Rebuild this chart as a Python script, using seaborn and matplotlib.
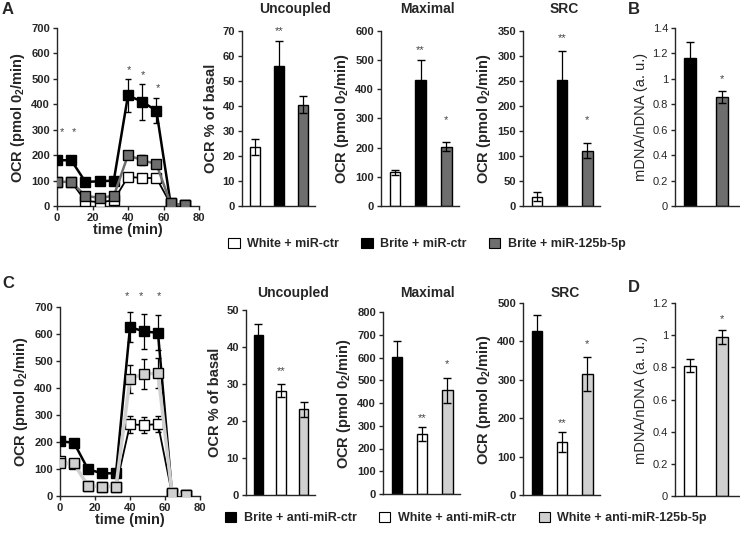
import numpy as np
import seaborn as sns
import matplotlib.pyplot as plt
from matplotlib.patches import Patch
from matplotlib.ticker import FuncFormatter

sns.set_style("ticks")
plt.rcParams['font.family'] = ['Liberation Sans', 'DejaVu Sans']
plt.rcParams['mathtext.fontset'] = 'custom'
plt.rcParams['mathtext.bf'] = 'Liberation Sans:bold'
plt.rcParams['mathtext.rm'] = 'Liberation Sans'
plt.rcParams['axes.linewidth'] = 1.0

# ---- data ----
time_min = [0, 8, 16, 24, 32, 40, 48, 56, 64, 72]

# panel A time course
a_white = [95, 95, 20, 15, 22, 115, 110, 110, 8, 2]
a_brite = [180, 180, 95, 97, 100, 435, 410, 375, 10, 2]
a_125b = [95, 95, 40, 32, 40, 200, 180, 165, 10, 2]
a_white_err = [3, 3, 3, 3, 3, 8, 8, 8, 0, 0]
a_brite_err = [8, 8, 5, 5, 5, 65, 70, 50, 0, 0]
a_125b_err = [5, 5, 5, 5, 5, 12, 20, 12, 0, 0]
a_star_x = [3, 9.5, 40.5, 48.5, 57]
a_star_y = [290, 290, 533, 515, 465]

# panel C time course
c_brite = [203, 197, 99, 84, 84, 625, 610, 604, 10, 2]
c_white = [128, 118, 37, 35, 35, 265, 263, 266, 8, 2]
c_125b = [121, 121, 37, 35, 35, 435, 452, 455, 10, 2]
c_brite_err = [8, 8, 5, 5, 5, 55, 65, 65, 0, 0]
c_white_err = [5, 5, 3, 3, 3, 30, 28, 30, 0, 0]
c_125b_err = [5, 5, 3, 3, 3, 52, 57, 55, 0, 0]
c_star_x = [38, 46.5, 56.5]
c_star_y = [742, 742, 742]

# groups
groups_a = ['White + miR-ctr', 'Brite + miR-ctr', 'Brite + miR-125b-5p']
groups_c = ['Brite + anti-miR-ctr', 'White + anti-miR-ctr', 'White + anti-miR-125b-5p']

a_uncoupled = [23.5, 56.2, 40.5]
a_uncoupled_err = [3.2, 10.0, 3.4]
a_uncoupled_stars = ['', '**', '']
a_uncoupled_star_y = [0, 70, 0]

a_maximal = [115, 431, 203]
a_maximal_err = [10, 70, 15]
a_maximal_stars = ['', '**', '*']
a_maximal_star_y = [0, 535, 295]

a_src = [18, 251, 110]
a_src_err = [9, 60, 15]
a_src_stars = ['', '**', '*']
a_src_star_y = [0, 335, 172]

b_mtdna = [1.165, 0.855]
b_mtdna_err = [0.125, 0.048]
b_stars = ['', '*']
b_star_y = [0, 1.0]

c_uncoupled = [43.3, 28.2, 23.2]
c_uncoupled_err = [3.0, 1.8, 2.0]
c_uncoupled_stars = ['', '**', '']
c_uncoupled_star_y = [0, 33.5, 0]

c_maximal = [602, 264, 457]
c_maximal_err = [70, 32, 55]
c_maximal_stars = ['', '**', '*']
c_maximal_star_y = [0, 335, 572]

c_src = [427, 138, 315]
c_src_err = [43, 26, 45]
c_src_stars = ['', '**', '*']
c_src_star_y = [0, 186, 392]

d_mtdna = [0.81, 0.99]
d_mtdna_err = [0.04, 0.045]
d_stars = ['', '*']
d_star_y = [0, 1.1]

col_a = ['white', 'black', '#6e6e6e']
col_c = ['black', 'white', '#d0d0d0']

W, H = 740, 537
fig = plt.figure(figsize=(W / 100, H / 100), dpi=100)


def px_axes(l, t, r, b):
    return fig.add_axes([l / W, 1 - b / H, (r - l) / W, (b - t) / H])


def style_y(ax, ymax, step, bold=True, fmt=False):
    ax.set_ylim(0, ymax)
    ax.set_yticks(np.arange(0, ymax + step / 2, step))
    if fmt:
        ax.yaxis.set_major_formatter(FuncFormatter(lambda v, p: '{:g}'.format(round(v, 2))))
    ax.tick_params(axis='both', labelsize=8, length=3, width=1, pad=2)
    for lbl in ax.get_yticklabels():
        lbl.set_fontweight('bold' if bold else 'normal')
    sns.despine(ax=ax)


OCR = r'OCR (pmol 0$_\mathbf{2}$/min)'


def timecourse(ax, series, errs, colors, lines, lws, star_x, star_y):
    for y, e, fc, lc, lw in zip(series, errs, colors, lines, lws):
        ax.errorbar(time_min, y, yerr=e, fmt='none', ecolor='black',
                    elinewidth=0.9, capsize=2.5, zorder=2)
        sns.lineplot(x=time_min, y=y, ax=ax, color=lc, linewidth=lw, marker='s',
                     markersize=6.5, markerfacecolor=fc, markeredgecolor='black',
                     markeredgewidth=1.0, zorder=3)
    ax.set_xlim(0, 80)
    ax.set_xticks([0, 20, 40, 60, 80])
    style_y(ax, 700, 100)
    for lbl in ax.get_xticklabels():
        lbl.set_fontweight('bold')
    ax.set_xlabel('time (min)', fontsize=10.5, fontweight='bold', labelpad=0)
    ax.set_ylabel(OCR, fontsize=10.5, fontweight='bold', labelpad=3)
    for sx, sy in zip(star_x, star_y):
        ax.text(sx, sy, '*', ha='center', va='center', fontsize=8,
                color='#444444', clip_on=False)


def bars(ax, labels, vals, errs, colors, stars, star_y, ymax, step,
         title=None, ylabel=None, fmt=False, bold=True, width=0.42, xlim=(-0.55, 2.5)):
    sns.barplot(x=labels, y=vals, hue=labels, palette=colors, legend=False,
                edgecolor='black', linewidth=1.0, width=width, ax=ax)
    ax.errorbar(range(len(vals)), vals, yerr=errs, fmt='none', ecolor='black',
                elinewidth=0.9, capsize=3, zorder=3)
    ax.set_xlim(*xlim)
    ax.set_xticks([])
    ax.set_xlabel('')
    style_y(ax, ymax, step, bold=bold, fmt=fmt)
    if ylabel:
        ax.set_ylabel(ylabel, fontsize=10.5, fontweight='bold' if bold else 'normal', labelpad=3)
    for i, (s, sy) in enumerate(zip(stars, star_y)):
        if s:
            ax.text(i, sy, s, ha='center', va='center', fontsize=8,
                    color='#444444', clip_on=False)


# ---- row A/B ----
ax = px_axes(57, 28, 199, 206)
timecourse(ax, [a_white, a_brite, a_125b], [a_white_err, a_brite_err, a_125b_err],
           ['white', 'black', '#6e6e6e'], ['black', 'black', '#6e6e6e'], [1.3, 1.8, 1.8],
           a_star_x, a_star_y)

ax = px_axes(242, 31, 315, 206)
bars(ax, groups_a, a_uncoupled, a_uncoupled_err, col_a, a_uncoupled_stars,
     a_uncoupled_star_y, 70, 10, ylabel='OCR % of basal')
ax = px_axes(381, 31, 459, 206)
bars(ax, groups_a, a_maximal, a_maximal_err, col_a, a_maximal_stars,
     a_maximal_star_y, 600, 100, ylabel=OCR)
ax = px_axes(523, 31, 600, 206)
bars(ax, groups_a, a_src, a_src_err, col_a, a_src_stars,
     a_src_star_y, 350, 50, ylabel=OCR)
ax = px_axes(675, 28, 739, 206)
bars(ax, groups_a[1:], b_mtdna, b_mtdna_err, col_a[1:], b_stars, b_star_y,
     1.4, 0.2, ylabel='mDNA/nDNA (a. u.)', fmt=True, bold=False,
     width=0.38, xlim=(-0.47, 1.55))

# ---- row C/D ----
ax = px_axes(60, 307, 200, 496)
timecourse(ax, [c_brite, c_white, c_125b], [c_brite_err, c_white_err, c_125b_err],
           ['black', 'white', '#d0d0d0'], ['black', 'black', '#d0d0d0'], [1.8, 1.3, 2.5],
           c_star_x, c_star_y)

ax = px_axes(246, 310, 315, 495)
bars(ax, groups_c, c_uncoupled, c_uncoupled_err, col_c, c_uncoupled_stars,
     c_uncoupled_star_y, 50, 10, ylabel='OCR % of basal')
ax = px_axes(383, 312, 460, 494)
bars(ax, groups_c, c_maximal, c_maximal_err, col_c, c_maximal_stars,
     c_maximal_star_y, 800, 100, ylabel=OCR)
ax = px_axes(523, 303, 600, 495)
bars(ax, groups_c, c_src, c_src_err, col_c, c_src_stars,
     c_src_star_y, 500, 100, ylabel=OCR)
ax = px_axes(675, 303, 739, 496)
bars(ax, groups_c[1:], d_mtdna, d_mtdna_err, col_c[1:], d_stars, d_star_y,
     1.2, 0.2, ylabel='mDNA/nDNA (a. u.)', fmt=True, bold=False,
     width=0.38, xlim=(-0.47, 1.55))

# ---- titles and panel letters ----
for x, y, t in [(295, 9, 'Uncoupled'), (427, 9, 'Maximal'), (564, 9, 'SRC'),
                (293, 293, 'Uncoupled'), (427, 293, 'Maximal'), (565, 293, 'SRC')]:
    fig.text(x / W, 1 - y / H, t, ha='center', va='center', fontsize=10, fontweight='bold')
for x, y, t in [(2, 9, 'A'), (628, 10, 'B'), (2, 283, 'C'), (628, 287, 'D')]:
    fig.text(x / W, 1 - y / H, t, ha='left', va='center', fontsize=12, fontweight='bold')

# ---- legends ----
h_a = [Patch(facecolor=c, edgecolor='black', linewidth=0.8, label=g) for c, g in zip(col_a, groups_a)]
fig.legend(handles=h_a, loc='center', bbox_to_anchor=(427 / W, 1 - 244 / H), ncol=3,
           frameon=False, prop={'weight': 'bold', 'size': 9}, handlelength=0.9,
           handleheight=0.9, handletextpad=0.6, columnspacing=1.8)
h_c = [Patch(facecolor=c, edgecolor='black', linewidth=0.8, label=g) for c, g in zip(col_c, groups_c)]
fig.legend(handles=h_c, loc='center', bbox_to_anchor=(466 / W, 1 - 518 / H), ncol=3,
           frameon=False, prop={'weight': 'bold', 'size': 9}, handlelength=0.9,
           handleheight=0.9, handletextpad=0.6, columnspacing=1.8)

fig.savefig('out.png', dpi=100)
